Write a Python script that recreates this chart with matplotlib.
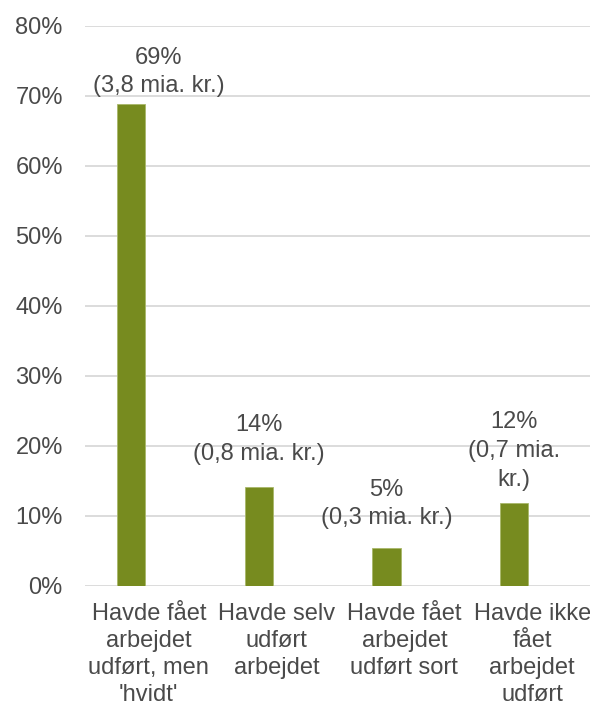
import matplotlib
matplotlib.use("Agg")
import matplotlib.pyplot as plt
import numpy as np

plt.rcParams['font.family'] = ['Liberation Sans', 'DejaVu Sans']

categories = ["Havde fået\narbejdet\nudført, men\n'hvidt'",
              "Havde selv\nudført\narbejdet",
              "Havde fået\narbejdet\nudført sort",
              "Havde ikke\nfået\narbejdet\nudført"]
shares = [0.688, 0.141, 0.055, 0.118]
bar_labels = ["69%\n(3,8 mia. kr.)", "14%\n(0,8 mia. kr.)",
              "5%\n(0,3 mia. kr.)", "12%\n(0,7 mia.\nkr.)"]
yticks = [0, 0.1, 0.2, 0.3, 0.4, 0.5, 0.6, 0.7, 0.8]

bar_color = '#778B1F'
text_color = '#4A4A4A'
grid_color = '#D9D9D9'
fs = 17

W, H = 590, 707
fig = plt.figure(figsize=(W / 100, H / 100), dpi=100)
# plot area runs a little past the right edge, as in the original
ax = fig.add_axes([85 / W, 1 - 586 / H, 511 / W, 560 / H])

x = np.arange(len(categories))
offset = -0.14  # bars sit left of the category centre (empty 2nd series)
bars = ax.bar(x + offset, shares, width=0.22, color=bar_color,
              edgecolor='#A9B86A', linewidth=0.6, zorder=3)

# label offsets (points): first label was moved by hand in the original
label_dx = [20, 0, 0, 0]
label_dy = [5, 16, 13, 9]
for i, (b, lab) in enumerate(zip(bars, bar_labels)):
    ax.annotate(lab, (b.get_x() + b.get_width() / 2, b.get_height()),
                xytext=(label_dx[i], label_dy[i]), textcoords='offset points',
                ha='center', va='bottom', multialignment='center',
                fontsize=fs, color=text_color, linespacing=1.4)

ax.set_xlim(-0.5, len(categories) - 0.5)
ax.set_ylim(0, 0.8)
ax.set_yticks(yticks)
ax.set_yticklabels([f"{int(round(v * 100))}%" for v in yticks])
ax.set_xticks(x)
ax.set_xticklabels(categories, linespacing=1.3)
ax.tick_params(axis='both', length=0, labelsize=fs, labelcolor=text_color)
ax.tick_params(axis='y', pad=16)
ax.tick_params(axis='x', pad=12)

ax.grid(axis='y', color=grid_color, linewidth=1.3, zorder=0)
ax.set_axisbelow(True)
for s in ax.spines.values():
    s.set_visible(False)

fig.savefig('out.png', dpi=100)
